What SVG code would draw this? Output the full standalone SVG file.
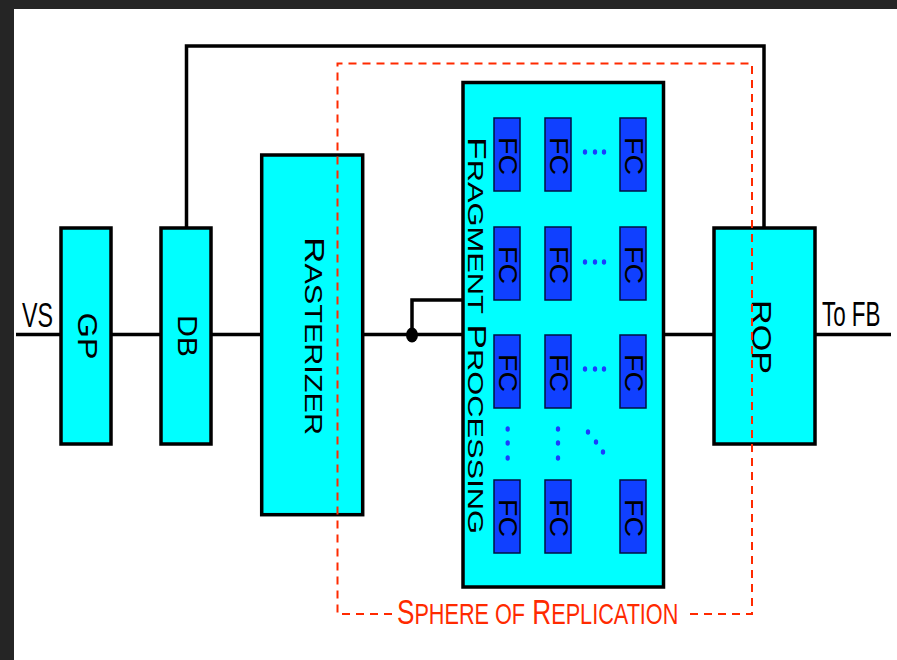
<svg xmlns="http://www.w3.org/2000/svg" width="897" height="660" viewBox="0 0 897 660">
<style>
.box{fill:#00ffff;stroke:#000;stroke-width:3.5}
.fc{fill:#1040ff;stroke:#001040;stroke-width:1.5}
.wire{fill:none;stroke:#000;stroke-width:3.5}
.lbl{font-family:"Liberation Sans",Arial,sans-serif;fill:#000}
.fct{font-family:"Liberation Sans",Arial,sans-serif;font-size:25px;fill:#000}
.dot{fill:#1a3cff}
.sphere{fill:none;stroke:#ff2a00;stroke-width:2;stroke-dasharray:8 6}
.red{font-family:"Liberation Sans",Arial,sans-serif;fill:#ff2a00}
</style>
<defs>
<g id="fcbox">
<rect class="fc" x="0" y="0" width="26" height="73"/>
<text class="fct" transform="translate(5,38) rotate(90)" text-anchor="middle" textLength="38" lengthAdjust="spacingAndGlyphs">FC</text>
</g>
<g id="hdots">
<ellipse class="dot" cx="0" cy="0" rx="2.2" ry="2.8"/>
<ellipse class="dot" cx="10" cy="0" rx="2.2" ry="2.8"/>
<ellipse class="dot" cx="19" cy="0" rx="2.2" ry="2.8"/>
</g>
<g id="vdots">
<ellipse class="dot" cx="0" cy="0" rx="2.2" ry="2.8"/>
<ellipse class="dot" cx="0" cy="14" rx="2.2" ry="2.8"/>
<ellipse class="dot" cx="0" cy="29" rx="2.2" ry="2.8"/>
</g>
</defs>
<rect x="0" y="0" width="897" height="660" fill="#252525"/>
<rect x="14" y="9" width="883" height="651" fill="#ffffff"/>

<g id="connectors">
<line class="wire" x1="16" y1="334.5" x2="891" y2="334.5" stroke-width="3.3"/>
<polyline class="wire" points="186.5,228 186.5,46 764,46 764,228"/>
<polyline class="wire" points="412,335 412,300 463,300"/>
<ellipse cx="412" cy="335" rx="6" ry="7.5" fill="#000"/>
</g>

<g id="labels-io">
<text class="lbl" font-size="36" transform="translate(22,327) scale(0.646,1)">VS</text>
<text class="lbl" font-size="36" transform="translate(822,326) scale(0.622,1)">To FB</text>
</g>

<g id="GP">
<rect class="box" x="61" y="228" width="50" height="216"/>
<text class="lbl" font-size="27.5" transform="translate(78,336) rotate(90)" text-anchor="middle" textLength="47" lengthAdjust="spacingAndGlyphs">GP</text>
</g>

<g id="DB">
<rect class="box" x="161" y="228" width="50" height="216"/>
<text class="lbl" font-size="27.5" transform="translate(178,336) rotate(90)" text-anchor="middle" textLength="42" lengthAdjust="spacingAndGlyphs">DB</text>
</g>

<g id="Rasterizer">
<rect class="box" x="261.7" y="155" width="101" height="359.7"/>
<text class="lbl" font-size="27.5" transform="translate(305,336) rotate(90)" text-anchor="middle" textLength="198" lengthAdjust="spacingAndGlyphs">R<tspan font-size="23">ASTERIZER</tspan></text>
</g>

<g id="FragmentProcessing">
<rect class="box" x="463" y="82.5" width="200.5" height="504.5"/>
<text class="lbl" font-size="26.5" transform="translate(468,335.5) rotate(90)" text-anchor="middle" textLength="397" lengthAdjust="spacingAndGlyphs">F<tspan font-size="22">RAGMENT</tspan> P<tspan font-size="22">ROCESSING</tspan></text>
<g id="FC-grid">
<use href="#fcbox" x="494" y="118"/>
<use href="#fcbox" x="545" y="118"/>
<use href="#fcbox" x="620" y="118"/>
<use href="#fcbox" x="494" y="227"/>
<use href="#fcbox" x="545" y="227"/>
<use href="#fcbox" x="620" y="227"/>
<use href="#fcbox" x="494" y="335"/>
<use href="#fcbox" x="545" y="335"/>
<use href="#fcbox" x="620" y="335"/>
<use href="#fcbox" x="494" y="480"/>
<use href="#fcbox" x="545" y="480"/>
<use href="#fcbox" x="620" y="480"/>
<use href="#hdots" x="585" y="152"/>
<use href="#hdots" x="585" y="262"/>
<use href="#hdots" x="585" y="369"/>
<use href="#vdots" x="507.7" y="429"/>
<use href="#vdots" x="558" y="429"/>
<ellipse class="dot" cx="588" cy="432" rx="2.2" ry="2.8"/>
<ellipse class="dot" cx="596" cy="442" rx="2.2" ry="2.8"/>
<ellipse class="dot" cx="603" cy="452" rx="2.2" ry="2.8"/>
</g>
</g>

<g id="ROP">
<rect class="box" x="714" y="228" width="101" height="216"/>
<text class="lbl" font-size="28" transform="translate(752,337) rotate(90)" text-anchor="middle" textLength="74" lengthAdjust="spacingAndGlyphs">ROP</text>
</g>

<g id="SphereOfReplication">
<polyline class="sphere" points="392,614 337.5,614 337.5,63.5 752,63.5 752,614 686,614"/>
<text class="red" font-size="35" transform="translate(397,624) scale(0.747,1)">S<tspan font-size="29">PHERE OF</tspan> R<tspan font-size="29">EPLICATION</tspan></text>
</g>
</svg>
